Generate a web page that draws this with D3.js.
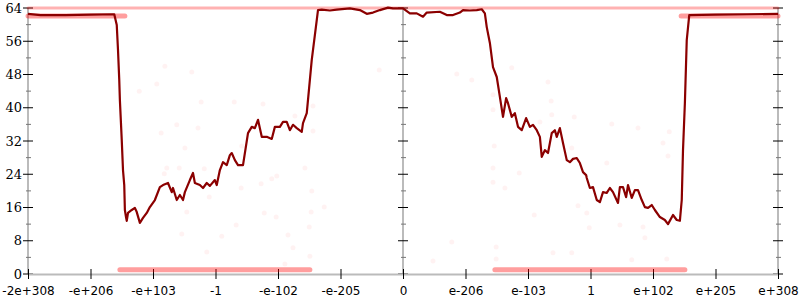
<!DOCTYPE html>
<html>
<head>
<meta charset="utf-8">
<script src="https://cdn.jsdelivr.net/npm/d3@7"></script>
<style>
  body { margin: 0; background: #fff; }
  svg { display: block; }
</style>
</head>
<body>
<svg id="chart"></svg>
<script>
// Tick labels along the bottom (positions -6 .. 6)
const xTickLabels = ["-2e+308", "-e+206", "-e+103", "-1", "-e-102", "-e-205", "0",
                     "e-206", "e-103", "1", "e+102", "e+205", "e+308"];
const yMajorTicks = [0, 8, 16, 24, 32, 40, 48, 56, 64];
const yMinorTicks = [4, 12, 20, 28, 36, 44, 52, 60];

// Main line: [position, value]
const lineData = [
  [-6, 62.6], [-5.8, 62.3], [-5.4, 62.3], [-5, 62.4], [-4.62, 62.5],
  [-4.58, 59.9], [-4.56, 53.9], [-4.54, 46.7], [-4.53, 41.9], [-4.50, 32.2],
  [-4.48, 25.0], [-4.46, 21.4], [-4.45, 15.4], [-4.43, 13.5], [-4.42, 12.8],
  [-4.40, 14.7], [-4.34, 15.4], [-4.29, 15.9], [-4.26, 14.9], [-4.21, 12.3],
  [-4.16, 13.5], [-4.10, 14.7], [-4.05, 16.1], [-3.97, 17.8], [-3.89, 20.9],
  [-3.84, 21.4], [-3.76, 21.9], [-3.70, 19.7], [-3.68, 20.7], [-3.62, 17.8],
  [-3.57, 19.0], [-3.52, 17.8], [-3.49, 19.7], [-3.41, 22.6], [-3.36, 24.3],
  [-3.33, 21.9], [-3.25, 21.4], [-3.20, 20.7], [-3.14, 21.9], [-3.09, 21.2],
  [-3.01, 22.6], [-2.98, 21.4], [-2.93, 25.0], [-2.88, 26.9], [-2.82, 26.2],
  [-2.77, 28.6], [-2.74, 29.1], [-2.69, 27.4], [-2.64, 26.2], [-2.56, 26.2],
  [-2.53, 29.1], [-2.48, 33.9], [-2.42, 35.4], [-2.37, 35.1], [-2.32, 37.1],
  [-2.26, 33.0], [-2.18, 33.0], [-2.10, 32.5], [-2.05, 35.4], [-1.97, 35.4],
  [-1.92, 36.6], [-1.86, 36.6], [-1.81, 34.6], [-1.76, 35.9], [-1.70, 35.1],
  [-1.62, 34.2], [-1.60, 36.3], [-1.54, 38.7], [-1.52, 41.9], [-1.46, 51.5],
  [-1.39, 59.9], [-1.36, 63.5], [-1.30, 63.6], [-1.17, 63.4], [-1.06, 63.6],
  [-0.85, 63.9], [-0.69, 63.5], [-0.58, 62.6], [-0.48, 62.9], [-0.37, 63.5],
  [-0.24, 64.1], [-0.16, 63.9], [0, 63.9], [0.11, 62.7], [0.22, 62.7],
  [0.32, 61.9], [0.38, 62.9], [0.59, 63.1], [0.70, 62.3], [0.80, 62.3],
  [0.91, 62.9], [0.96, 63.5], [1.07, 63.4], [1.18, 63.5], [1.26, 63.7],
  [1.31, 62.7], [1.34, 59.4], [1.39, 55.6], [1.44, 49.8], [1.50, 47.4],
  [1.55, 42.6], [1.60, 37.8], [1.65, 42.3], [1.68, 41.1], [1.74, 37.8],
  [1.79, 38.7], [1.84, 35.4], [1.90, 34.6], [1.97, 37.5], [2.03, 35.4],
  [2.08, 35.9], [2.14, 34.6], [2.19, 33.0], [2.22, 28.2], [2.27, 29.8],
  [2.32, 29.1], [2.38, 33.9], [2.43, 34.6], [2.46, 33.0], [2.51, 35.1],
  [2.56, 31.5], [2.62, 27.4], [2.67, 26.9], [2.72, 27.7], [2.78, 27.9],
  [2.83, 26.7], [2.88, 24.5], [2.93, 23.8], [2.94, 23.1], [2.99, 20.7],
  [3.04, 20.9], [3.10, 17.8], [3.15, 17.3], [3.20, 19.7], [3.26, 19.5],
  [3.31, 20.7], [3.36, 19.7], [3.44, 17.1], [3.47, 20.9], [3.52, 20.9],
  [3.57, 18.5], [3.60, 21.4], [3.66, 18.3], [3.71, 20.2], [3.76, 20.2],
  [3.82, 17.8], [3.87, 16.1], [3.92, 15.9], [3.98, 16.6], [4.03, 15.4],
  [4.11, 13.7], [4.19, 13.0], [4.24, 12.0], [4.32, 14.2], [4.38, 13.0],
  [4.43, 12.8], [4.46, 17.8], [4.48, 29.8], [4.51, 41.1], [4.54, 56.3],
  [4.58, 62.3], [5, 62.4], [5.5, 62.5], [6, 62.6]
];

// Dense sample bands: [from, to, value]
const bands = [
  [-6, 6, 64],
  [-6, -4.45, 62.1],
  [4.45, 6, 62.1],
  [-4.53, -1.49, 1],
  [1.47, 4.51, 1]
];

// Scattered faint samples: [position, value]
const scatter = [
  [-3.81, 50.0], [-3.38, 48.6], [-3.94, 45.7], [-4.22, 44.0], [-3.23, 41.4],
  [-2.70, 41.4], [-2.24, 40.9], [-1.44, 40.4], [-3.62, 35.9], [-3.28, 35.1],
  [-3.87, 33.9], [-1.73, 38.0], [-1.44, 34.4], [-3.49, 30.3], [-2.58, 30.8],
  [-3.78, 25.5], [-3.58, 25.5], [-3.18, 25.3], [-1.57, 25.5], [-3.82, 24.1],
  [-2.02, 23.6], [-2.10, 22.9], [-2.27, 21.7], [-2.59, 20.7], [-1.46, 20.0],
  [-3.10, 18.5], [-3.46, 14.9], [-2.22, 14.7], [-2.03, 13.7], [-1.47, 14.9],
  [-1.26, 16.1], [-2.67, 11.8], [-1.50, 11.3], [-3.54, 9.6], [-2.90, 9.1],
  [-1.84, 9.4], [-1.76, 6.3], [-3.14, 5.3], [-1.49, 4.3], [-1.89, 2.4],
  [-0.38, 49.1], [0.86, 48.1], [1.10, 46.7], [1.74, 49.6], [2.32, 46.2],
  [2.37, 41.6], [1.44, 39.5], [1.44, 43.1], [2.38, 38.3], [2.74, 37.8],
  [2.19, 36.6], [3.34, 36.1], [3.76, 35.1], [4.26, 34.2], [4.16, 31.5],
  [1.46, 30.8], [2.70, 30.3], [3.26, 26.7], [4.24, 28.4], [1.44, 25.5],
  [1.86, 24.3], [1.44, 22.1], [1.63, 20.7], [2.80, 16.4], [2.10, 14.2],
  [2.94, 14.7], [2.98, 11.1], [3.47, 11.8], [3.84, 11.3], [0.78, 7.7],
  [0.48, 3.1], [1.49, 6.5], [1.49, 3.6], [2.40, 5.1], [2.70, 5.1],
  [3.87, 8.7], [4.22, 3.6], [3.66, 3.4]
];

const width = 800, height = 300;
const margin = { top: 8, right: 22, bottom: 26, left: 28 };

const svg = d3.select("#chart")
    .attr("width", width)
    .attr("height", height);

const xScale = d3.scaleLinear()
    .domain([-6, 6])
    .range([margin.left, width - margin.right]);

const yScale = d3.scaleLinear()
    .domain([0, 64])
    .range([height - margin.bottom, margin.top]);

// Scattered samples
svg.append("g")
    .selectAll("circle")
    .data(scatter)
    .enter().append("circle")
    .attr("cx", d => xScale(d[0]))
    .attr("cy", d => yScale(d[1]))
    .attr("r", 2.5)
    .attr("fill", "red")
    .attr("fill-opacity", 0.05);

// Vertical axes (left, middle, right)
[-6, 0, 6].forEach(pos => {
    const g = svg.append("g")
        .attr("transform", `translate(${xScale(pos)},0)`);
    g.append("line")
        .attr("y1", yScale(64))
        .attr("y2", yScale(0))
        .attr("stroke", "#bbb")
        .attr("stroke-width", 2);
    g.selectAll(".minor")
        .data(yMinorTicks)
        .enter().append("line")
        .attr("x1", -2).attr("x2", 3)
        .attr("y1", d => yScale(d)).attr("y2", d => yScale(d))
        .attr("stroke", "#777");
    g.selectAll(".major")
        .data(yMajorTicks)
        .enter().append("line")
        .attr("x1", -5).attr("x2", 5)
        .attr("y1", d => yScale(d)).attr("y2", d => yScale(d))
        .attr("stroke", "#000");
    if (pos === -6) {
        g.selectAll("text")
            .data(yMajorTicks)
            .enter().append("text")
            .attr("x", -6)
            .attr("y", d => yScale(d))
            .attr("dy", "0.35em")
            .attr("text-anchor", "end")
            .style("font-family", "DejaVu Serif")
            .style("font-size", "13px")
            .text(d => d);
    }
});

// X axis
const xAxis = svg.append("g")
    .attr("transform", `translate(0,${yScale(0)})`)
    .call(d3.axisBottom(xScale)
        .tickValues(d3.range(-6, 7))
        .tickSize(5)
        .tickSizeOuter(0)
        .tickFormat((d, i) => xTickLabels[i]));
xAxis.select(".domain").attr("stroke", "#bbb").attr("stroke-width", 2);
xAxis.selectAll(".tick line").attr("y1", -5).attr("y2", 5).attr("stroke", "#000");
xAxis.selectAll(".tick text")
    .attr("y", 12)
    .attr("fill", "#000")
    .style("font-family", "DejaVu Sans")
    .style("font-size", "12px");

// Dense sample bands
svg.append("g")
    .selectAll("line")
    .data(bands)
    .enter().append("line")
    .attr("x1", d => xScale(d[0]))
    .attr("x2", d => xScale(d[1]))
    .attr("y1", d => yScale(d[2]))
    .attr("y2", d => yScale(d[2]))
    .attr("stroke", "#f00")
    .attr("stroke-opacity", d => d[2] === 64 ? 0.3 : 0.38)
    .attr("stroke-width", d => d[2] === 64 ? 3 : 5)
    .attr("stroke-linecap", "round");

// Line Generator
const line = d3.line()
    .x(d => xScale(d[0]))
    .y(d => yScale(d[1]));

svg.append("path")
    .datum(lineData)
    .attr("fill", "none")
    .attr("stroke", "#8b0000")
    .attr("stroke-width", 2.2)
    .attr("stroke-linejoin", "round")
    .attr("d", line);
</script>
</body>
</html>
